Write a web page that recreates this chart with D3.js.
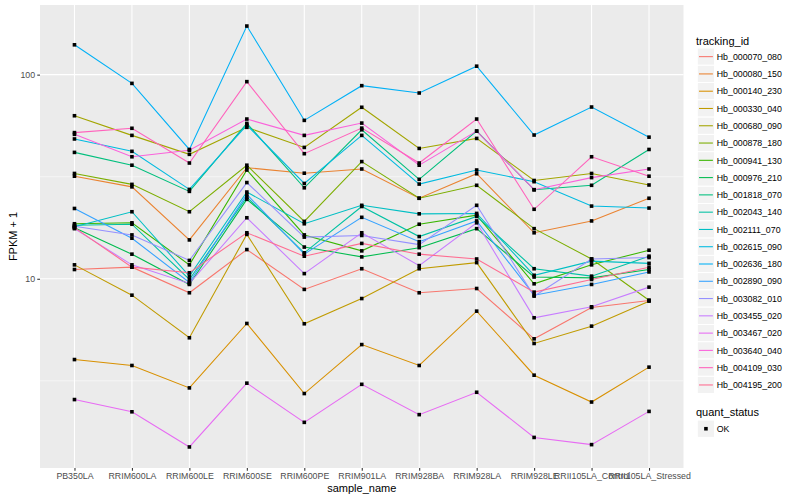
<!DOCTYPE html>
<html>
<head>
<meta charset="utf-8">
<script src="https://cdn.jsdelivr.net/npm/d3@7"></script>
<style>
  body { margin: 0; background: #fff; }
  text { font-family: "Liberation Sans", Arial, Helvetica, sans-serif; }
</style>
</head>
<body>
<div id="chart"></div>
<script>
const samples = ["PB350LA", "RRIM600LA", "RRIM600LE", "RRIM600SE", "RRIM600PE", "RRIM901LA",
  "RRIM928BA", "RRIM928LA", "RRIM928LE", "RRII105LA_Control", "RRII105LA_Stressed"];

// FPKM + 1, one value per sample
const hb000070_080 = [11.1, 11.4, 8.54, 13.9, 8.87, 11.2, 8.54, 8.96, 5.08, 7.23, 7.83];
const hb000080_150 = [31.8, 28.2, 15.5, 35.0, 32.9, 34.5, 24.8, 32.7, 16.8, 19.2, 24.8];
const hb000140_230 = [4.02, 3.76, 2.92, 6.04, 2.74, 4.76, 3.76, 6.94, 3.37, 2.49, 3.69];
const hb000330_040 = [11.7, 8.31, 5.14, 16.5, 6.02, 8.00, 11.2, 12.0, 4.82, 5.86, 7.77];
const hb000680_090 = [62.9, 50.4, 40.7, 55.2, 44.0, 69.2, 43.5, 48.7, 30.3, 32.8, 28.8];
const hb000878_180 = [32.8, 29.0, 21.3, 36.0, 19.1, 37.5, 24.8, 28.7, 17.6, 12.5, 7.85];
const hb000941_130 = [18.6, 18.8, 11.7, 34.1, 16.4, 13.7, 18.5, 20.5, 9.45, 11.7, 13.8];
const hb000976_210 = [17.8, 13.2, 9.38, 24.5, 14.3, 12.8, 14.2, 17.6, 10.2, 10.1, 11.1];
const hb001818_070 = [41.6, 36.0, 26.8, 57.7, 27.9, 53.7, 30.7, 52.9, 27.3, 28.7, 43.0];
const hb002043_140 = [18.3, 18.5, 9.92, 25.1, 13.4, 22.6, 16.1, 20.2, 11.2, 10.3, 12.9];
const hb002111_070 = [18.0, 21.3, 10.3, 26.6, 18.6, 22.9, 20.8, 20.9, 10.4, 12.2, 11.9];
const hb002615_090 = [48.4, 42.1, 27.4, 56.6, 29.3, 50.4, 29.1, 34.1, 29.9, 22.7, 22.2];
const hb002636_180 = [140, 90.6, 43.0, 173, 59.7, 88.3, 81.3, 110, 50.6, 69.4, 49.4];
const hb002890_090 = [22.1, 15.8, 9.59, 25.9, 13.2, 20.0, 15.2, 19.2, 8.31, 9.38, 10.8];
const hb003082_010 = [18.1, 16.4, 12.3, 29.6, 16.0, 16.3, 14.7, 22.9, 8.22, 12.5, 12.7];
const hb003455_020 = [17.6, 11.7, 9.48, 19.9, 10.6, 16.8, 11.6, 18.8, 6.44, 7.29, 9.10];
const hb003467_020 = [2.56, 2.23, 1.50, 3.08, 1.98, 3.04, 2.16, 2.78, 1.67, 1.54, 2.24];
const hb003640_040 = [51.0, 39.6, 42.6, 60.6, 50.4, 57.9, 36.0, 52.9, 27.3, 31.3, 34.5];
const hb004109_030 = [52.0, 54.6, 36.9, 92.4, 41.0, 54.7, 36.9, 60.6, 21.9, 39.6, 31.8];
const hb004195_200 = [17.8, 11.4, 10.7, 16.8, 12.9, 14.9, 13.2, 12.5, 8.60, 9.92, 11.4];

const trackingIds = ["Hb_000070_080", "Hb_000080_150", "Hb_000140_230", "Hb_000330_040", "Hb_000680_090",
  "Hb_000878_180", "Hb_000941_130", "Hb_000976_210", "Hb_001818_070", "Hb_002043_140", "Hb_002111_070",
  "Hb_002615_090", "Hb_002636_180", "Hb_002890_090", "Hb_003082_010", "Hb_003455_020", "Hb_003467_020",
  "Hb_003640_040", "Hb_004109_030", "Hb_004195_200"];
const seriesValues = [hb000070_080, hb000080_150, hb000140_230, hb000330_040, hb000680_090,
  hb000878_180, hb000941_130, hb000976_210, hb001818_070, hb002043_140, hb002111_070,
  hb002615_090, hb002636_180, hb002890_090, hb003082_010, hb003455_020, hb003467_020,
  hb003640_040, hb004109_030, hb004195_200];
const quantStatus = ["OK"];
const yTicks = [10, 100];

const palette = ["#F8766D", "#EA8331", "#D89000", "#C09B00", "#A3A500", "#7CAE00", "#39B600", "#00BB4E",
  "#00BF7D", "#00C1A3", "#00BFC4", "#00BAE0", "#00B0F6", "#35A2FF", "#9590FF", "#C77CFF", "#E76BF3",
  "#FA62DB", "#FF62BC", "#FF6C91"];

const series = trackingIds.map((id, i) => ({
  id: id,
  values: samples.map((s, j) => ({sample: s, y: seriesValues[i][j]}))
}));

const W = 800, H = 500;
const margin = {top: 5, right: 116.5, bottom: 32, left: 40};
const pw = W - margin.left - margin.right;
const ph = H - margin.top - margin.bottom;

const svg = d3.select("#chart").append("svg")
  .attr("width", W).attr("height", H);

const panel = svg.append("g")
  .attr("transform", `translate(${margin.left}, ${margin.top})`);

const x = d3.scalePoint().domain(samples).range([0, pw]).padding(0.6);

// log scale with ggplot-like 5% expansion in log space
const all = series.flatMap(s => s.values.map(d => d.y));
const lo = Math.log10(d3.min(all)), hi = Math.log10(d3.max(all));
const pad = (hi - lo) * 0.05;
const y = d3.scaleLog().domain([10 ** (lo - pad), 10 ** (hi + pad)]).range([ph, 0]);

panel.append("rect")
  .attr("width", pw).attr("height", ph)
  .attr("fill", "#EBEBEB");

// minor grid lines halfway between decades
const minor = [];
for (let e = -1; e < 4; e++) {
  const v = 10 ** (e + 0.5);
  if (v > y.domain()[0] && v < y.domain()[1]) minor.push(v);
}
panel.selectAll(".minor")
  .data(minor)
  .enter()
  .append("line")
    .attr("x1", 0).attr("x2", pw)
    .attr("y1", d => y(d)).attr("y2", d => y(d))
    .attr("stroke", "#fff")
    .attr("stroke-width", 0.53);

panel.selectAll(".majorY")
  .data(yTicks)
  .enter()
  .append("line")
    .attr("x1", 0).attr("x2", pw)
    .attr("y1", d => y(d)).attr("y2", d => y(d))
    .attr("stroke", "#fff")
    .attr("stroke-width", 1.07);

panel.selectAll(".majorX")
  .data(samples)
  .enter()
  .append("line")
    .attr("x1", d => x(d)).attr("x2", d => x(d))
    .attr("y1", 0).attr("y2", ph)
    .attr("stroke", "#fff")
    .attr("stroke-width", 1.07);

const line = d3.line()
  .x(d => x(d.sample))
  .y(d => y(d.y));

panel.selectAll(".series")
  .data(series)
  .enter()
  .append("path")
    .attr("d", d => line(d.values))
    .attr("fill", "none")
    .attr("stroke", (d, i) => palette[i])
    .attr("stroke-width", 1.07);

const ptSize = 3.6;
panel.selectAll(".pt")
  .data(series.flatMap(s => s.values))
  .enter()
  .append("rect")
    .attr("x", d => x(d.sample) - ptSize / 2)
    .attr("y", d => y(d.y) - ptSize / 2)
    .attr("width", ptSize)
    .attr("height", ptSize)
    .attr("fill", "#000");

// axes
const xAxis = svg.append("g")
  .attr("transform", `translate(${margin.left}, ${margin.top + ph})`)
  .call(d3.axisBottom(x).tickSize(2.74).tickPadding(2.2));
const yAxis = svg.append("g")
  .attr("transform", `translate(${margin.left}, ${margin.top})`)
  .call(d3.axisLeft(y).tickValues(yTicks).tickFormat(d3.format("d")).tickSize(2.74).tickPadding(2.2));

[xAxis, yAxis].forEach(a => {
  a.select(".domain").remove();
  a.selectAll(".tick line").attr("stroke", "#333333").attr("stroke-width", 1.07);
  a.selectAll(".tick text")
    .attr("fill", "#4D4D4D")
    .style("font-size", "8.8px")
    .style("font-family", "'Liberation Sans', Arial, sans-serif");
});

svg.append("text")
  .attr("x", margin.left + pw / 2)
  .attr("y", 492)
  .attr("text-anchor", "middle")
  .attr("font-size", "11px")
  .text("sample_name");

svg.append("text")
  .attr("transform", `translate(16.5, ${margin.top + ph / 2}) rotate(-90)`)
  .attr("text-anchor", "middle")
  .attr("font-size", "11px")
  .text("FPKM + 1");

// legends
const keySize = 17.28;
const legX = 696;
const legend = svg.append("g");

legend.append("text")
  .attr("x", legX).attr("y", 44.5)
  .attr("font-size", "11px")
  .text("tracking_id");

const keys = legend.selectAll(".key")
  .data(trackingIds)
  .enter()
  .append("g")
    .attr("transform", (d, i) => `translate(${legX + 1.3}, ${48 + i * keySize})`);

keys.append("rect")
  .attr("width", keySize).attr("height", keySize)
  .attr("fill", "#F2F2F2")
  .attr("stroke", "#fff")
  .attr("stroke-width", 1);

keys.append("line")
  .attr("x1", 1.7).attr("x2", keySize - 1.7)
  .attr("y1", keySize / 2).attr("y2", keySize / 2)
  .attr("stroke", (d, i) => palette[i])
  .attr("stroke-width", 1.07);

keys.append("text")
  .attr("x", keySize + 2.2)
  .attr("y", keySize / 2 + 3.2)
  .attr("font-size", "8.8px")
  .text(d => d);

const qTop = 48 + trackingIds.length * keySize + 18.5;
legend.append("text")
  .attr("x", legX).attr("y", qTop + 3.5)
  .attr("font-size", "11px")
  .text("quant_status");

const qKeys = legend.selectAll(".qkey")
  .data(quantStatus)
  .enter()
  .append("g")
    .attr("transform", (d, i) => `translate(${legX + 1.3}, ${qTop + 8 + i * keySize})`);

qKeys.append("rect")
  .attr("width", keySize).attr("height", keySize)
  .attr("fill", "#F2F2F2")
  .attr("stroke", "#fff");

qKeys.append("rect")
  .attr("x", keySize / 2 - 1.8).attr("y", keySize / 2 - 1.8)
  .attr("width", 3.6).attr("height", 3.6)
  .attr("fill", "#000");

qKeys.append("text")
  .attr("x", keySize + 2.2)
  .attr("y", keySize / 2 + 3.2)
  .attr("font-size", "8.8px")
  .text(d => d);
</script>
</body>
</html>
